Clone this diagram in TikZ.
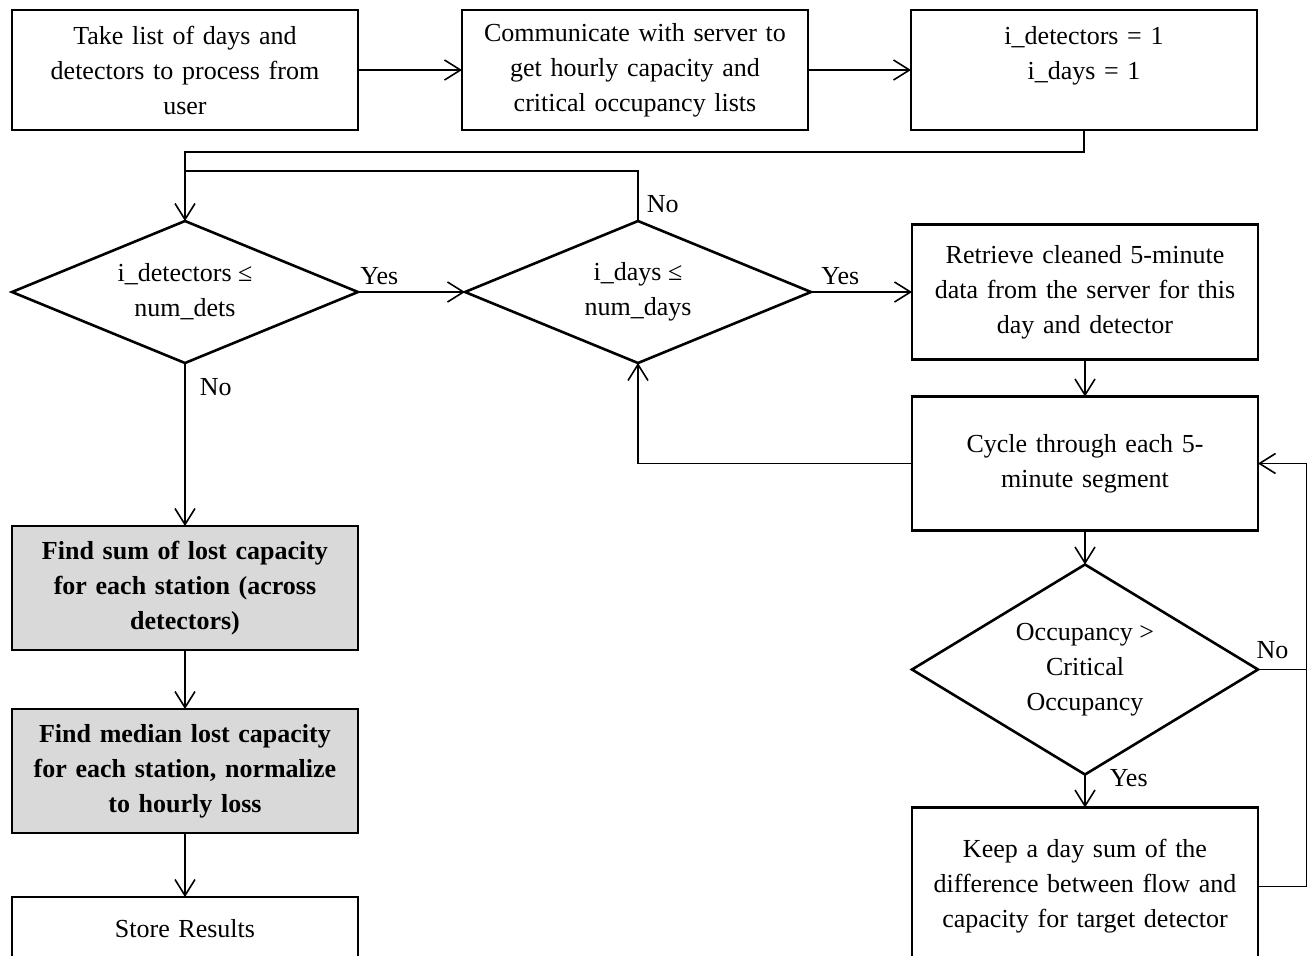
\documentclass[tikz,border=0pt]{standalone}
\usepackage{fontspec}
\setmainfont{Liberation Serif}
\usetikzlibrary{shapes.geometric, arrows.meta, positioning}
\definecolor{mydark}{RGB}{0,0,0}
\definecolor{hdrgray}{RGB}{217,217,217}
\tikzset{
  stepbox/.style={rectangle, draw=mydark, fill=white,
    text width=168pt, align=center, minimum width=173pt, minimum height=60pt,
    inner sep=0pt, outer sep=0pt, font=\fontsize{13}{17.5}\selectfont, line width=1.3pt},
  graybox/.style={stepbox, fill=hdrgray, minimum height=62pt,
    font=\fontsize{13}{17.5}\selectfont\bfseries},
  decision/.style={diamond, draw=mydark, fill=white, aspect=2.44,
    minimum width=173pt, minimum height=71pt, inner sep=0pt, outer sep=0pt, align=center,
    font=\fontsize{13}{17.5}\selectfont, line width=1.3pt},
  arrow/.style={-{Straight Barb[length=8pt, width=10pt]}, line width=0.8pt, color=mydark},
  line/.style={line width=0.8pt, color=mydark},
  lbl/.style={font=\fontsize{13}{17.5}\selectfont, inner sep=2pt}
}
\begin{document}
\begin{tikzpicture}
  \useasboundingbox (0,0) rectangle (656pt,-477.5pt);

  % top row
  \node[stepbox] (take) at (92.5pt,-35pt) {Take list of days and\\detectors to process from\\user};
  \node[stepbox, right=52pt of take] (comm) {Communicate with server to\\get hourly capacity and\\critical occupancy lists};
  \node[stepbox, right=51.5pt of comm] (init) {i\_detectors = 1\\i\_days = 1\\\mbox{}};

  % loops
  \node[decision, below=45.5pt of take] (dets) {i\_detectors ≤\\num\_dets};
  \node[decision, right=53.5pt of dets] (days) {i\_days ≤\\num\_days};
  \node[stepbox, minimum height=67.5pt, right=50.5pt of days] (fetch) {Retrieve cleaned 5-minute\\data from the server for this\\day and detector};
  \node[stepbox, minimum height=67pt, below=18.5pt of fetch] (cycle) {Cycle through each 5-\\minute segment};
  \node[decision, aspect=1.65, minimum height=105pt, below=17pt of cycle] (occ) {Occupancy >\\Critical\\Occupancy};
  \node[stepbox, minimum height=79pt, below=16.5pt of occ] (daysum) {Keep a day sum of the\\difference between flow and\\capacity for target detector};

  % results
  \node[graybox, below=81.5pt of dets] (stsum) {Find sum of lost capacity\\for each station (across\\detectors)};
  \node[graybox, below=29.5pt of stsum] (median) {Find median lost capacity\\for each station, normalize\\to hourly loss};
  \node[stepbox, minimum height=32pt, below=32pt of median] (store) {Store Results};

  \draw[arrow] (take) -- (comm);
  \draw[arrow] (comm) -- (init);
  \draw[arrow] (init.south) -- ++(0,-11pt) -| (dets.north);
  \draw[line] (days.north) -- node[lbl, pos=0.34, right=2pt]{No} ++(0,25pt) -| (dets.north);
  \draw[arrow] (dets) -- node[lbl, pos=0.2, above=1pt]{Yes} (days);
  \draw[arrow] (days) -- node[lbl, pos=0.29, above=1pt]{Yes} (fetch);
  \draw[arrow] (fetch) -- (cycle);
  \draw[arrow] (cycle.west) -| (days.south);
  \draw[arrow] (cycle) -- (occ);
  \draw[arrow] (occ) -- node[lbl, pos=0.1, right=10pt]{Yes} (daysum);
  \draw[line] (occ.east) -- node[lbl, pos=0.3, above=3pt]{No} ++(24.25pt,0);
  \draw[arrow] (daysum.east) -- ++(24.25pt,0) |- (cycle.east);
  \draw[arrow] (dets) -- node[lbl, pos=0.15, right=5pt]{No} (stsum);
  \draw[arrow] (stsum) -- (median);
  \draw[arrow] (median) -- (store);
\end{tikzpicture}
\end{document}
